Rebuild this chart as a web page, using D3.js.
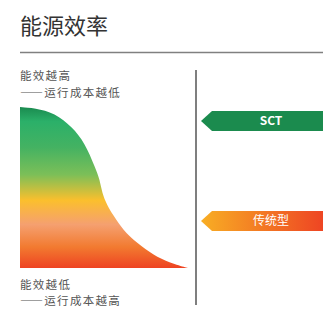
<!DOCTYPE html>
<meta charset="utf-8">
<script src="https://cdn.jsdelivr.net/npm/d3@7"></script>
<style>
  body { margin: 0; background: #fff; }
  text { font-family: "Noto Sans CJK SC", sans-serif; }
  .lab { font-feature-settings: "fwid"; }
</style>
<div id="my_dataviz"></div>
<script>
// efficiency curve: level (0 = low, 100 = high) vs relative width
var levels = [100, 99.4, 96.3, 87.6, 77.6, 62.7, 54.7, 46.6, 39.1, 32.9, 23.6, 15.5, 8.1, 3.1, 0];
var widths = [0, 8.9, 20.8, 31, 38.7, 44.6, 47.6, 48.8, 51.8, 55.4, 61.3, 69.6, 79.2, 89.3, 100];

// markers on the right
var markers = ["SCT", "传统型"];
var markerLevels = [91.3, 29.2];

var title = "能源效率";
var topLabels = ["能效越高", "——运行成本越低"];
var bottomLabels = ["能效越低", "——运行成本越高"];

var W = 323, H = 317;
var svg = d3.select("#my_dataviz")
  .append("svg")
    .attr("width", W)
    .attr("height", H);

var x = d3.scaleLinear().domain([0, 100]).range([20, 188]);
var y = d3.scaleLinear().domain([0, 100]).range([268, 107]);

var defs = svg.append("defs");
var grad = defs.append("linearGradient")
  .attr("id", "effGrad")
  .attr("gradientUnits", "userSpaceOnUse")
  .attr("x1", 0).attr("x2", 0)
  .attr("y1", y(100)).attr("y2", y(0));
[[0, "#1a8a4f"], [0.09, "#2bb069"], [0.25, "#44b262"], [0.42, "#7cbf58"], [0.58, "#fbbf2d"],
 [0.73, "#f5a070"], [0.87, "#f27a30"], [1, "#ee4322"]].forEach(function(s) {
  grad.append("stop").attr("offset", s[0]).attr("stop-color", s[1]);
});

var grad2 = defs.append("linearGradient")
  .attr("id", "oldGrad")
  .attr("x1", 0).attr("x2", 1).attr("y1", 0).attr("y2", 0);
grad2.append("stop").attr("offset", 0).attr("stop-color", "#f8ae24");
grad2.append("stop").attr("offset", 1).attr("stop-color", "#ee4523");

// title
svg.append("text")
  .attr("x", 20).attr("y", 34)
  .attr("font-size", 22)
  .attr("fill", "#333")
  .text(title);

svg.append("line")
  .attr("x1", 20).attr("x2", W)
  .attr("y1", 52.5).attr("y2", 52.5)
  .attr("stroke", "#808080").attr("stroke-width", 1.5);

// curve area
var data = levels.map(function(l, i) { return {level: l, width: widths[i]}; });
svg.append("path")
  .datum(data)
  .attr("fill", "url(#effGrad)")
  .attr("d", d3.area()
    .curve(d3.curveBasis)
    .y(function(d) { return y(d.level); })
    .x0(x(0))
    .x1(function(d) { return x(d.width); })
  );

// labels
svg.selectAll(".toplab")
  .data(topLabels)
  .enter()
  .append("text")
    .attr("class", "lab")
    .attr("x", 20)
    .attr("y", function(d, i) { return 80 + i * 17; })
    .attr("font-size", 11.5)
    .attr("letter-spacing", 1.3)
    .attr("fill", "#555")
    .text(function(d) { return d; });

svg.selectAll(".botlab")
  .data(bottomLabels)
  .enter()
  .append("text")
    .attr("class", "lab")
    .attr("x", 20)
    .attr("y", function(d, i) { return 289 + i * 16; })
    .attr("font-size", 11.5)
    .attr("letter-spacing", 1.3)
    .attr("fill", "#555")
    .text(function(d) { return d; });

// divider
svg.append("line")
  .attr("x1", 196).attr("x2", 196)
  .attr("y1", 70).attr("y2", 305)
  .attr("stroke", "#555").attr("stroke-width", 1.5);

// markers
var g = svg.selectAll(".marker")
  .data(markers)
  .enter()
  .append("g")
    .attr("transform", function(d, i) { return "translate(0," + y(markerLevels[i]) + ")"; });

g.append("path")
  .attr("d", "M201,0 L212,-10 L" + W + ",-10 L" + W + ",10 L212,10 Z")
  .attr("fill", function(d, i) { return i === 0 ? "#1b8b4e" : "url(#oldGrad)"; });

g.append("text")
  .attr("x", 271)
  .attr("y", 0)
  .attr("dy", "0.36em")
  .attr("text-anchor", "middle")
  .attr("font-size", 12)
  .attr("font-weight", function(d, i) { return i === 0 ? "bold" : "normal"; })
  .attr("font-family", function(d, i) { return i === 0 ? "Roboto, sans-serif" : null; })
  .attr("fill", "#fff")
  .text(function(d) { return d; });
</script>
